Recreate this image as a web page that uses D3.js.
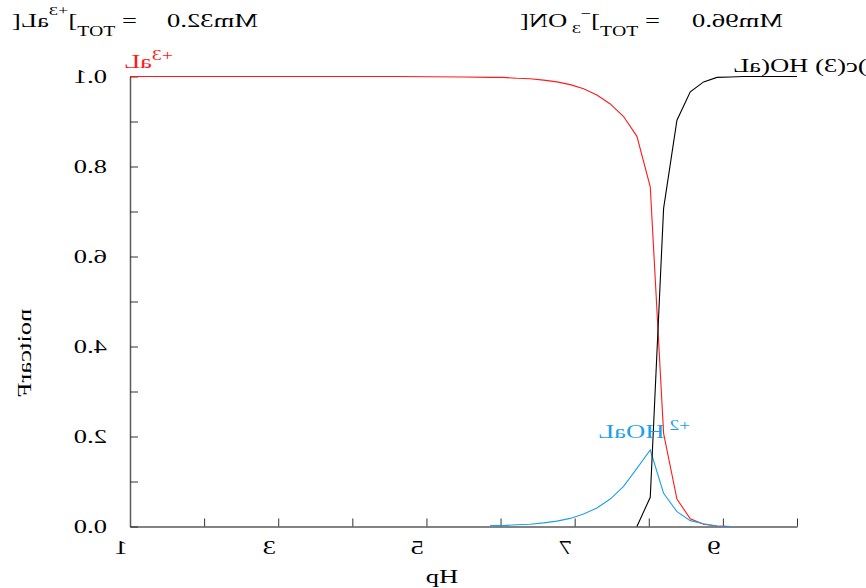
<!DOCTYPE html>
<html>
<head>
<meta charset="utf-8">
<script src="https://cdn.jsdelivr.net/npm/d3@7"></script>
<style>
  html, body { margin: 0; padding: 0; background: #fff; }
  svg { display: block; font-family: "Liberation Serif", "Times New Roman", serif; }
</style>
</head>
<body>
<svg id="chart" width="866" height="588"></svg>
<script>
// pH grid and species fractions for lanthanum nitrate solution
const pH = [1.00, 1.90, 2.80, 3.70, 4.60, 5.50, 5.86, 6.04, 6.22, 6.40, 6.58, 6.76, 6.94, 7.12, 7.30,
            7.48, 7.66, 7.84, 8.02, 8.20, 8.38, 8.56, 8.74, 8.92, 9.10, 9.28, 9.46, 9.64, 9.82, 10.00];
const la3 = [1.000, 1.000, 1.000, 1.000, 1.000, 0.999, 0.998, 0.998, 0.996, 0.995, 0.992, 0.988, 0.982, 0.973, 0.959,
             0.939, 0.911, 0.867, 0.755, 0.207, 0.061, 0.017, 0.005, 0.001, 0.000, null, null, null, null, null];
const laOH = [null, null, null, null, null, null, 0.002, 0.002, 0.004, 0.005, 0.008, 0.012, 0.018, 0.028, 0.041,
              0.061, 0.089, 0.129, 0.170, 0.074, 0.033, 0.013, 0.006, 0.001, 0.000, null, null, null, null, null];
const laOH3 = [null, null, null, null, null, null, null, null, null, null, null, null, null, null, null,
               null, null, 0.000, 0.065, 0.707, 0.903, 0.966, 0.988, 0.998, 0.999, 1.000, 1.000, 1.000, 1.000, 1.000];

const xTicks = [1, 2, 3, 4, 5, 6, 7, 8, 9, 10];
const xTickLabels = [1, 3, 5, 7, 9];
const yTicks = [0, 0.1, 0.2, 0.3, 0.4, 0.5, 0.6, 0.7, 0.8, 0.9, 1.0];
const yTickLabels = [0, 0.2, 0.4, 0.6, 0.8, 1.0];

const svg = d3.select("#chart");
const m = { left: 130, right: 797, top: 76.5, bottom: 526.5 };
const x = d3.scaleLinear().domain([1, 10]).range([m.left, m.right]);
const y = d3.scaleLinear().domain([0, 1]).range([m.bottom, m.top]);

const SX = 1.4;   // horizontal glyph stretch

// Writes a run of text glyph by glyph, each glyph flipped about its own centre.
function glyphRun(parent, gx, gy, parts, opt) {
  const sx = opt.sx || SX;
  const g = parent.append("g").attr("fill", opt.fill || "#000");
  let cur = 0;
  parts.forEach(p => {
    for (const ch of p.t) {
      if (ch === " ") { cur += 0.25 * p.size * sx; continue; }
      const t = g.append("text")
        .attr("font-size", p.size)
        .attr("text-anchor", "middle")
        .text(ch);
      const w = t.node().getComputedTextLength();
      const cx = cur + w * sx / 2;
      t.attr("transform", `translate(${cx},${p.dy || 0}) scale(${-sx},1)`);
      cur += w * sx;
    }
  });
  const shift = opt.anchor === "middle" ? -cur / 2 : opt.anchor === "end" ? -cur : 0;
  if (opt.rotate) {
    g.attr("transform", `translate(${gx},${gy}) rotate(${opt.rotate}) translate(${shift},0)`);
  } else {
    g.attr("transform", `translate(${gx + shift},${gy})`);
  }
  return g;
}

// Axes
const axisColor = "#5a5a5a";
const gx = svg.append("g")
  .attr("transform", `translate(0,${m.bottom})`)
  .call(d3.axisBottom(x).tickValues(xTicks).tickSizeInner(-8).tickSizeOuter(0).tickFormat(""));
const gy = svg.append("g")
  .attr("transform", `translate(${m.left},0)`)
  .call(d3.axisLeft(y).tickValues(yTicks).tickSizeInner(-8).tickSizeOuter(0).tickFormat(""));
[gx, gy].forEach(a => {
  a.select(".domain").attr("stroke", axisColor).attr("stroke-width", 1.5);
  a.selectAll(".tick line").attr("stroke", "#333").attr("stroke-width", 1);
});

const FS = 19;
xTickLabels.forEach(v => {
  glyphRun(svg, x(v) - 9, 554, [{ t: String(v), size: FS }], { anchor: "middle" });
});
yTickLabels.forEach(v => {
  glyphRun(svg, m.left - 23, y(v) + 6, [{ t: v.toFixed(1), size: FS }], { anchor: "end" });
});

// Axis titles
glyphRun(svg, 442, 583, [{ t: "pH", size: FS }], { anchor: "middle" });
glyphRun(svg, 31, 353, [{ t: "Fraction", size: FS }], { anchor: "middle", rotate: -90 });

// Species curves
const series = [
  { values: la3, color: "#ff1a1a" },
  { values: laOH, color: "#1e9fea" },
  { values: laOH3, color: "#000000" }
];
const line = d3.line()
  .defined(d => d[1] !== null)
  .x(d => x(d[0]))
  .y(d => y(d[1]));
series.forEach(s => {
  svg.append("path")
    .datum(pH.map((p, i) => [p, s.values[i]]))
    .attr("fill", "none")
    .attr("stroke", s.color)
    .attr("stroke-width", 1.1)
    .attr("d", line);
});

// Species labels
glyphRun(svg, 124, 68, [{ t: "La", size: FS }, { t: "3+", size: 14, dy: -8 }], { fill: "#ff1a1a" });
glyphRun(svg, 598, 438, [{ t: "LaOH", size: FS }, { t: " ", size: 14 }, { t: "2+", size: 14, dy: -8 }], { fill: "#1e9fea" });
glyphRun(svg, 733, 72, [{ t: "La(OH", size: FS }, { t: " )", size: FS }, { t: "3", size: FS }, { t: "(c)", size: FS }], { fill: "#000" });

// Total concentrations
glyphRun(svg, 12, 27, [
  { t: "[La", size: FS }, { t: "3+", size: 13, dy: -12 }, { t: "]", size: FS },
  { t: "TOT", size: 14, dy: 9 }, { t: " =", size: FS }
], {});
glyphRun(svg, 167, 27, [{ t: "0.23mM", size: FS }], {});
glyphRun(svg, 520, 27, [
  { t: "[NO", size: FS }, { t: " 3", size: 13, dy: 6 }, { t: "\u2212", size: 13, dy: -9 }, { t: "]", size: FS },
  { t: "TOT", size: 14, dy: 9 }, { t: " =", size: FS }
], {});
glyphRun(svg, 692, 27, [{ t: "0.69mM", size: FS }], {});
</script>
</body>
</html>
